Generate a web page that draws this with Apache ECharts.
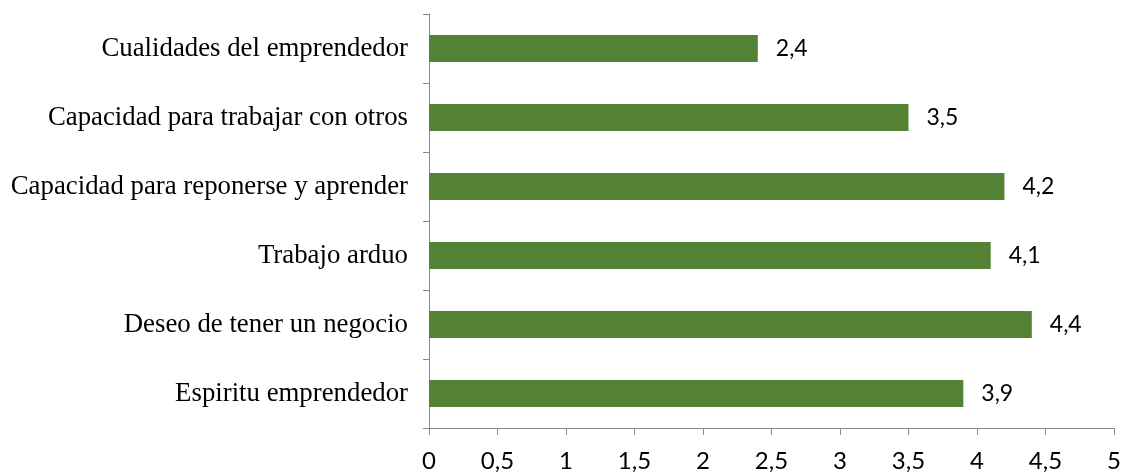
<!DOCTYPE html>
<html><head><meta charset="utf-8">
<script src="https://cdn.jsdelivr.net/npm/echarts@6/dist/echarts.min.js"></script>
<style>html,body{margin:0;padding:0;background:#fff}#c{width:1124px;height:476px}</style>
</head><body><div id="c"></div>
<script>
const categories = ["Espiritu emprendedor","Deseo de tener un negocio","Trabajo arduo","Capacidad para reponerse y aprender","Capacidad para trabajar con otros","Cualidades del emprendedor"];
const values = [3.9, 4.4, 4.1, 4.2, 3.5, 2.4];
const fmt = v => String(v).replace('.', ',');
const chart = echarts.init(document.getElementById('c'));
chart.setOption({
  animation:false,
  grid:{left:429,right:10,top:14,bottom:48,containLabel:false},
  xAxis:{type:'value',min:0,max:5,interval:0.5,
    axisLine:{show:true,lineStyle:{color:'#898989',width:1}},
    axisTick:{show:true,length:7,lineStyle:{color:'#898989'}},
    splitLine:{show:false},
    axisLabel:{formatter:fmt,color:'#000',fontFamily:'Lato',fontSize:24,margin:21}},
  yAxis:{type:'category',data:categories,
    axisLine:{show:true,lineStyle:{color:'#898989',width:1}},
    axisTick:{show:true,length:6,lineStyle:{color:'#898989'}},
    axisLabel:{color:'#000',fontFamily:'Liberation Serif',fontSize:26.8,margin:21}},
  series:[{type:'bar',data:values,barWidth:27,
    itemStyle:{color:'#548235'},
    label:{show:true,position:'right',distance:18,formatter:p=>fmt(p.value),color:'#000',fontFamily:'Lato',fontSize:23}}]
});
</script></body></html>
